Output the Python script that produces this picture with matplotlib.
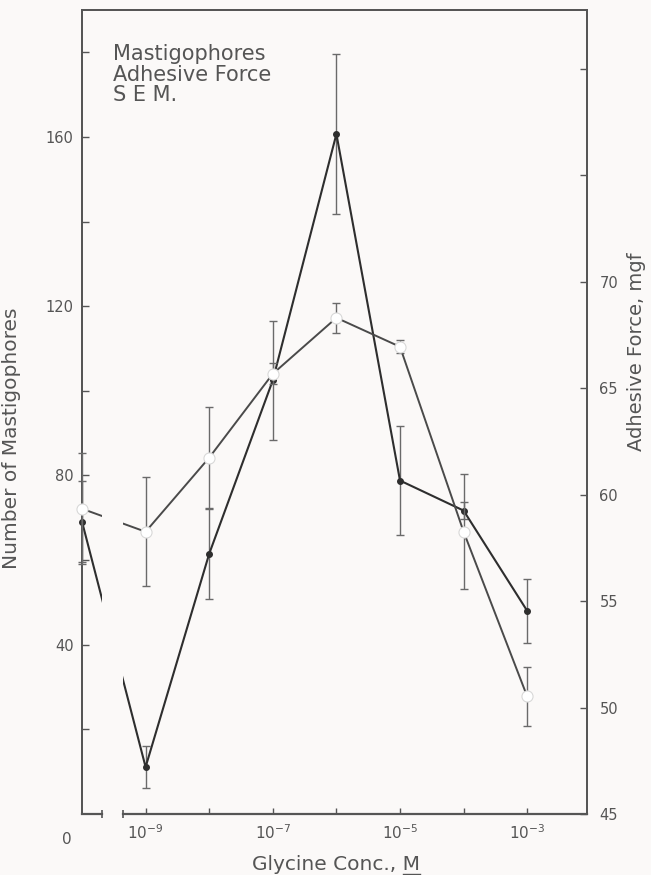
import matplotlib
matplotlib.use("Agg")
import matplotlib.pyplot as plt
from matplotlib.lines import Line2D
import numpy as np

# ---- data ----
conc_positions = [1e-10, 1e-9, 1e-8, 1e-7, 1e-6, 1e-5, 1e-4, 1e-3]   # first = control (0)
mastigophores = [69.1, 11.1, 61.5, 102.5, 160.7, 78.8, 71.7, 48.0]
mastigophores_sem = [9.5, 5.0, 10.7, 14.0, 19.0, 12.9, 2.0, 7.6]
adhesive_force = [59.34, 58.26, 61.74, 65.68, 68.31, 66.95, 58.26, 50.52]
adhesive_sem = [2.6, 2.55, 2.4, 0.5, 0.7, 0.3, 2.7, 1.4]

xtick_vals = [1e-9, 1e-8, 1e-7, 1e-6, 1e-5, 1e-4, 1e-3]
xtick_labels = ["10$^{-9}$", "", "10$^{-7}$", "", "10$^{-5}$", "", "10$^{-3}$"]
left_major = [40, 80, 120, 160]
left_minor = [20, 60, 100, 140, 180]
right_ticks = [45, 50, 55, 60, 65, 70, 75, 80]
right_labels = ["45", "50", "55", "60", "65", "70", "", ""]

legend_lines = ["Mastigophores", "Adhesive Force", "S E M."]

bg = "#fbf9f8"
ink = "#555555"
line_dark = "#2e2e2e"
line_mid = "#4a4a4a"

fig = plt.figure(figsize=(6.51, 8.75), dpi=100, facecolor=bg)
ax = fig.add_axes([82/651, 1-814/875, (587-82)/651, (814-10)/875])
ax.set_facecolor(bg)
ax.set_xscale("log")
ax.set_xlim(1e-10, 10**-2.06)
ax.set_ylim(0, 190)

ax2 = ax.twinx()
ax2.set_ylim(45, 82.77)

# mastigophores (filled dots) on left axis
ax.errorbar(conc_positions, mastigophores, yerr=mastigophores_sem, fmt="none",
            ecolor="#6a6a6a", elinewidth=1.0, capsize=3, capthick=1.0, zorder=3, clip_on=False)
ax.plot(conc_positions, mastigophores, color=line_dark, lw=1.5, marker="o", ms=4,
        mfc=line_dark, mec=line_dark, zorder=4, clip_on=False)

# adhesive force (open circles) on right axis
ax2.errorbar(conc_positions, adhesive_force, yerr=adhesive_sem, fmt="none",
             ecolor="#6a6a6a", elinewidth=1.0, capsize=3, capthick=1.0, zorder=3, clip_on=False)
ax2.plot(conc_positions, adhesive_force, color=line_mid, lw=1.4, marker="o", ms=8,
         mfc="white", mec="#d8d8d8", mew=0.8, zorder=4, clip_on=False)

# axis break region (only where the lines cross it)
gap_lo, gap_hi = 10**-9.69, 10**-9.36
ax2.axvspan(gap_lo, gap_hi, ymin=0, ymax=0.45, color=bg, zorder=6, lw=0)

# spines
for a in (ax, ax2):
    for s in a.spines.values():
        s.set_color(ink)
        s.set_linewidth(1.3)
ax.spines["bottom"].set_visible(False)
ax2.spines["bottom"].set_visible(False)
xt = ax2.get_xaxis_transform()
ax2.plot([1e-10, gap_lo], [0, 0], color=ink, lw=1.6, transform=xt, clip_on=False, zorder=7)
ax2.plot([gap_hi, 10**-2.06], [0, 0], color=ink, lw=1.6, transform=xt, clip_on=False, zorder=7)
ax2.plot([gap_lo, gap_hi], [0, 0], ls="none", marker="|", ms=6, mew=1.2, color=ink,
         transform=xt, clip_on=False, zorder=7)

# x ticks
ax.set_xticks(xtick_vals)
ax.set_xticklabels(xtick_labels)
ax.xaxis.set_minor_locator(matplotlib.ticker.NullLocator())
ax.tick_params(axis="x", direction="in", length=4, width=1, color=ink, labelsize=11,
               labelcolor=ink, pad=7)
ax.text(10**-10.24, -0.022, "0", transform=ax.get_xaxis_transform(), ha="center", va="top",
        fontsize=11, color=ink)

# left y ticks
ax.set_yticks(left_major)
ax.set_yticks(left_minor, minor=True)
ax.tick_params(axis="y", which="both", direction="in", length=5, width=1, color=ink,
               labelsize=10.5, labelcolor=ink, pad=6)

# right y ticks
ax2.set_yticks(right_ticks)
ax2.set_yticklabels(right_labels)
ax2.tick_params(axis="y", direction="in", length=5, width=1, color=ink,
                labelsize=10.5, labelcolor=ink, pad=9)

# axis labels
ax.set_ylabel("Number of Mastigophores", fontsize=14.5, color=ink)
ax.yaxis.set_label_coords(-0.12, (814-438)/804)
ax2.set_ylabel("Adhesive Force, mgf", fontsize=14, color=ink, rotation=90, va="center")
ax2.yaxis.set_label_coords((637-82)/505, (814-352)/804)

# x label with underlined M
t1 = fig.text(336/651, 1-865/875, "Glycine Conc., M", fontsize=14.5, color=ink,
              ha="center", va="center")
fig.canvas.draw()
r = fig.canvas.get_renderer()
bb = t1.get_window_extent(r)
tm = fig.text(0, 0, "M", fontsize=14.5, color=ink)
mb = tm.get_window_extent(r)
tm.remove()
x1 = bb.x1
x0 = bb.x1 - mb.width
yline = bb.y0 + 1
fig.add_artist(Line2D([x0/651, x1/651], [yline/875, yline/875], color=ink, lw=1.0,
                      transform=fig.transFigure))

# legend text block
ax.text(0.061, 0.958, "\n".join(legend_lines), transform=ax.transAxes, ha="left", va="top",
        fontsize=15, color=ink, linespacing=1.05)

fig.savefig("out.png", dpi=100, facecolor=bg)
